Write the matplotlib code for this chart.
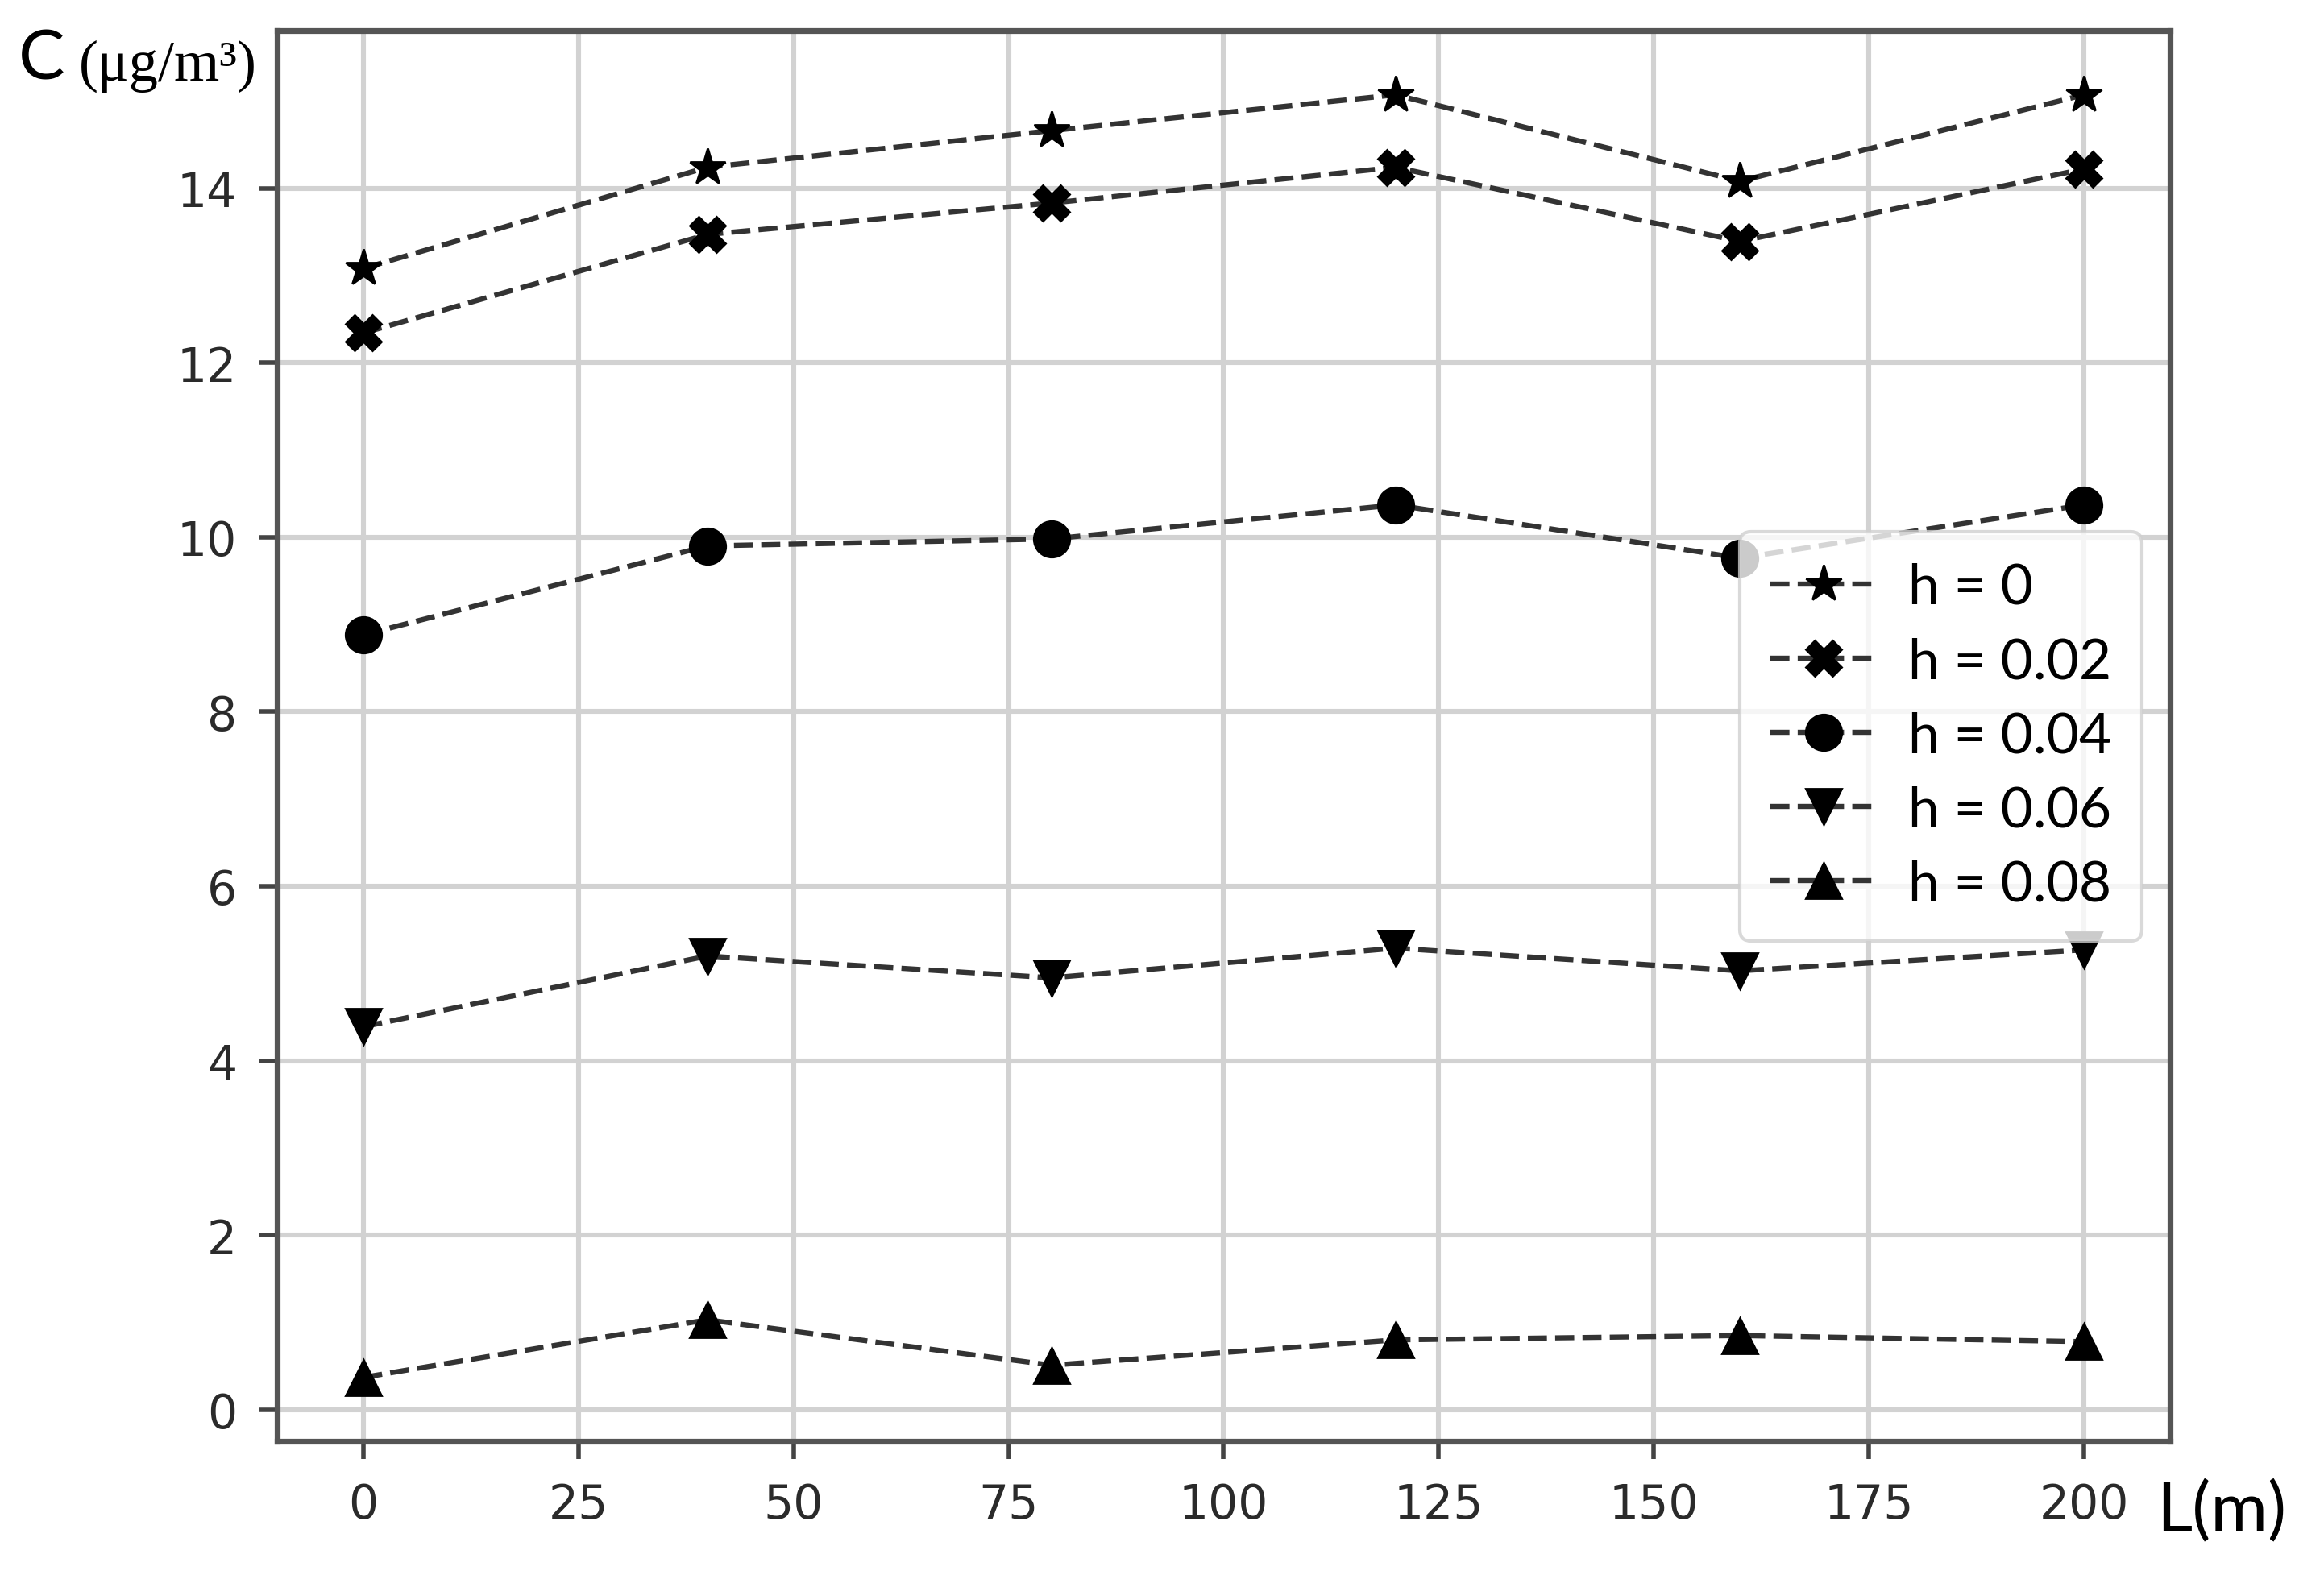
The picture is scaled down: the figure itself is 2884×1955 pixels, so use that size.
"""Concentration C along distance L for several h values."""

import matplotlib
matplotlib.use("Agg")
import matplotlib.pyplot as plt

distance_m = [0, 40, 80, 120, 160, 200]
h_labels = ["h = 0", "h = 0.02", "h = 0.04", "h = 0.06", "h = 0.08"]
markers = ["*", "X", "o", "v", "^"]

conc_h000 = [13.08, 14.24, 14.66, 15.07, 14.08, 15.07]
conc_h002 = [12.34, 13.47, 13.83, 14.24, 13.39, 14.22]
conc_h004 = [8.88, 9.90, 9.98, 10.37, 9.76, 10.37]
conc_h006 = [4.39, 5.20, 4.95, 5.29, 5.03, 5.27]
conc_h008 = [0.37, 1.03, 0.51, 0.80, 0.85, 0.78]

x_ticks = [0, 25, 50, 75, 100, 125, 150, 175, 200]
y_ticks = [0, 2, 4, 6, 8, 10, 12, 14]


def plot_concentration_chart(output_path: str) -> None:
    series = [conc_h000, conc_h002, conc_h004, conc_h006, conc_h008]

    fig = plt.figure(figsize=(14.42, 9.78), dpi=200)
    ax = fig.add_axes([0.1193, 0.0847, 0.8144, 0.8953])

    for values, marker, label in zip(series, markers, h_labels):
        ax.plot(distance_m, values, linestyle="--", lw=2.3, color="#333333",
                marker=marker, markersize=17 if marker == "*" else 16,
                markerfacecolor="black", markeredgecolor="black", label=label)

    ax.set_xticks(x_ticks)
    ax.set_yticks(y_ticks)
    ax.grid(True, color="#d2d2d2", lw=2.2)
    ax.set_axisbelow(True)
    ax.tick_params(labelsize=21, length=8, width=2, pad=10,
                   color="#444444", labelcolor="#2a2a2a")
    for spine in ax.spines.values():
        spine.set_color("#555555")
        spine.set_linewidth(2.6)

    leg = ax.legend(loc="center right", prop={"family": "Lato", "size": 25},
                    labelspacing=0.42, handlelength=1.9, handletextpad=0.55,
                    borderpad=0.55, borderaxespad=0.5)
    leg.get_frame().set_edgecolor("#d0d0d0")
    leg.get_frame().set_linewidth(1.5)

    # axis titles were pasted as separate text
    fig.text(0.008, 0.962, "C", family="Lato", fontsize=31, va="center", ha="left")
    fig.text(0.034, 0.958, "(μg/m³)", family="Liberation Serif", fontsize=26,
             va="center", ha="left")
    fig.text(0.928, 0.041, "L(m)", family="Lato", fontsize=31, va="center", ha="left")

    fig.savefig(output_path, dpi=200)
    plt.close(fig)


plot_concentration_chart("out.png")
